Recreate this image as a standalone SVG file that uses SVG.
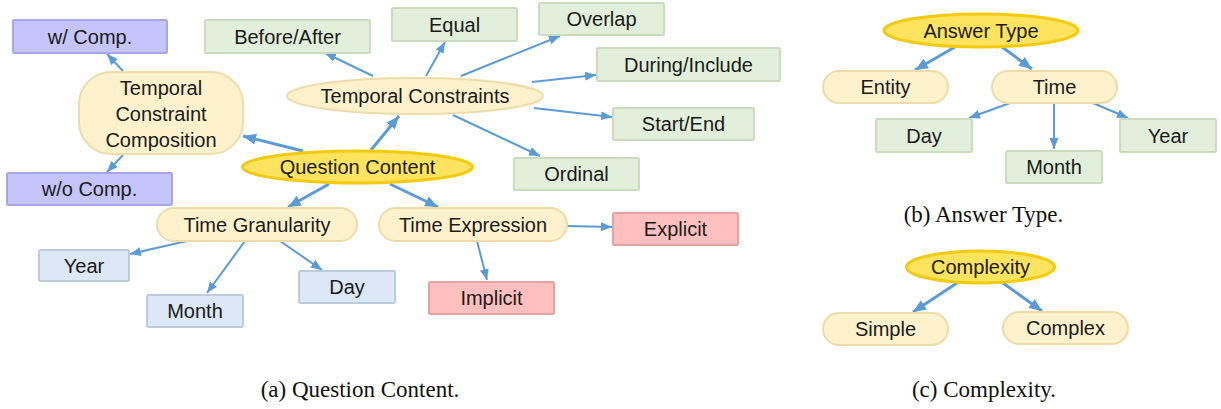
<svg xmlns="http://www.w3.org/2000/svg" width="1221" height="409" viewBox="0 0 1221 409">
<defs>
<style>
.t{font-family:"Liberation Sans",Arial,sans-serif;font-size:20px;fill:#1a1a1a;text-anchor:middle}
.cap{font-family:"Liberation Serif","Times New Roman",serif;font-size:23px;fill:#111;text-anchor:middle}
.green{fill:#e2efda;stroke:#c9dcbd;stroke-width:2}
.blue{fill:#dde8f6;stroke:#bccbdd;stroke-width:2}
.red{fill:#ffbfbf;stroke:#e2a3a3;stroke-width:2}
.lav{fill:#c5c5fc;stroke:#a6a6e4;stroke-width:2}
.cream{fill:#fdf2cc;stroke:#eddcaa;stroke-width:2}
.yel{fill:#fde35e;stroke:#f2ca10;stroke-width:3}
.thin{stroke:#5b9bd5;stroke-width:2;fill:none;marker-end:url(#ah)}
.thick{stroke:#5b9bd5;stroke-width:3;fill:none;marker-end:url(#ahb)}
</style>
<marker id="ah" markerUnits="userSpaceOnUse" markerWidth="12" markerHeight="10" refX="11" refY="4.5" orient="auto">
<path d="M0,0 L11,4.5 L0,9 z" fill="#5b9bd5"/>
</marker>
<marker id="ahb" markerUnits="userSpaceOnUse" markerWidth="14" markerHeight="12" refX="13" refY="5.5" orient="auto">
<path d="M0,0 L13,5.5 L0,11 z" fill="#5b9bd5"/>
</marker>
</defs>
<rect width="1221" height="409" fill="#fff"/>

<g id="connectors">
<line class="thick" x1="303" y1="151" x2="243" y2="136"/>
<line class="thick" x1="371" y1="150" x2="399" y2="116"/>
<line class="thick" x1="329" y1="184" x2="288" y2="207"/>
<line class="thick" x1="390" y1="184" x2="438" y2="207"/>
<line class="thin" x1="123" y1="71" x2="107" y2="54"/>
<line class="thin" x1="123" y1="155" x2="107" y2="172"/>
<line class="thin" x1="373" y1="76" x2="325" y2="53"/>
<line class="thin" x1="426" y1="76" x2="445" y2="42"/>
<line class="thin" x1="461" y1="76" x2="560" y2="36"/>
<line class="thin" x1="532" y1="82" x2="596" y2="75"/>
<line class="thin" x1="534" y1="108" x2="612" y2="117"/>
<line class="thin" x1="453" y1="115" x2="540" y2="156"/>
<line class="thin" x1="187" y1="241" x2="130" y2="254"/>
<line class="thin" x1="245" y1="241" x2="207" y2="293"/>
<line class="thin" x1="280" y1="241" x2="322" y2="270"/>
<line class="thin" x1="567" y1="226" x2="612" y2="227"/>
<line class="thin" x1="477" y1="241" x2="487" y2="280"/>
<line class="thick" x1="955" y1="47" x2="915" y2="70"/>
<line class="thick" x1="1002" y1="47" x2="1032" y2="69"/>
<line class="thin" x1="1010" y1="103" x2="969" y2="118"/>
<line class="thin" x1="1054" y1="103" x2="1054" y2="149"/>
<line class="thin" x1="1093" y1="103" x2="1128" y2="118"/>
<line class="thick" x1="957" y1="283" x2="913" y2="312"/>
<line class="thick" x1="1003" y1="283" x2="1042" y2="311"/>
</g>

<g id="wcomp"><rect class="lav" x="13" y="20" width="154" height="33" rx="1.5"/><text class="t" x="90" y="43.5">w/ Comp.</text></g>
<g id="tcc"><rect class="cream" x="79" y="72" width="164" height="82" rx="32"/><text class="t" x="161" y="95">Temporal</text><text class="t" x="161" y="121">Constraint</text><text class="t" x="161" y="146.5">Composition</text></g>
<g id="wocomp"><rect class="lav" x="7" y="173" width="165" height="32" rx="1.5"/><text class="t" x="89.5" y="196">w/o Comp.</text></g>
<g id="beforeafter"><rect class="green" x="205" y="20" width="165" height="33" rx="1.5"/><text class="t" x="287.5" y="43.5">Before/After</text></g>
<g id="equal"><rect class="green" x="392" y="8" width="125" height="33" rx="1.5"/><text class="t" x="454.5" y="31.5">Equal</text></g>
<g id="overlap"><rect class="green" x="539" y="3" width="125" height="32" rx="1.5"/><text class="t" x="601.5" y="26">Overlap</text></g>
<g id="during"><rect class="green" x="597" y="48" width="183" height="33" rx="1.5"/><text class="t" x="688.5" y="71.5">During/Include</text></g>
<g id="startend"><rect class="green" x="613" y="108" width="141" height="32" rx="1.5"/><text class="t" x="683.5" y="131">Start/End</text></g>
<g id="ordinal"><rect class="green" x="514" y="158" width="125" height="32" rx="1.5"/><text class="t" x="576.5" y="181">Ordinal</text></g>
<g id="tc"><ellipse class="cream" cx="415" cy="96" rx="128" ry="18"/><text class="t" x="415" y="103">Temporal Constraints</text></g>
<g id="qc"><ellipse class="yel" cx="357.5" cy="167" rx="115" ry="16"/><text class="t" x="357.5" y="174">Question Content</text></g>
<g id="tg"><rect class="cream" x="157" y="208" width="200" height="33" rx="16.5"/><text class="t" x="257" y="231.5">Time Granularity</text></g>
<g id="te"><rect class="cream" x="379" y="208" width="188" height="33" rx="16.5"/><text class="t" x="473" y="231.5">Time Expression</text></g>
<g id="explicit"><rect class="red" x="613" y="213" width="125" height="32" rx="1.5"/><text class="t" x="675.5" y="236">Explicit</text></g>
<g id="implicit"><rect class="red" x="429" y="282" width="125" height="32" rx="1.5"/><text class="t" x="491.5" y="305">Implicit</text></g>
<g id="tgyear"><rect class="blue" x="39" y="250" width="90" height="31" rx="1.5"/><text class="t" x="84" y="272.5">Year</text></g>
<g id="tgmonth"><rect class="blue" x="147" y="295" width="96" height="32" rx="1.5"/><text class="t" x="195" y="318">Month</text></g>
<g id="tgday"><rect class="blue" x="299" y="271" width="96" height="32" rx="1.5"/><text class="t" x="347" y="294">Day</text></g>
<text class="cap" x="360" y="397">(a) Question Content.</text>

<g id="answertype"><ellipse class="yel" cx="981" cy="30.5" rx="97" ry="16.5"/><text class="t" x="981" y="37.5">Answer Type</text></g>
<g id="entity"><rect class="cream" x="823" y="71" width="125" height="32" rx="16"/><text class="t" x="885.5" y="94">Entity</text></g>
<g id="time"><rect class="cream" x="992" y="71" width="125" height="32" rx="16"/><text class="t" x="1054.5" y="94">Time</text></g>
<g id="atday"><rect class="green" x="876" y="119" width="96" height="33" rx="1.5"/><text class="t" x="924" y="142.5">Day</text></g>
<g id="atmonth"><rect class="green" x="1006" y="151" width="96" height="32" rx="1.5"/><text class="t" x="1054" y="174">Month</text></g>
<g id="atyear"><rect class="green" x="1120" y="119" width="96" height="33" rx="1.5"/><text class="t" x="1168" y="142.5">Year</text></g>
<text class="cap" x="983.5" y="222">(b) Answer Type.</text>

<g id="complexity"><ellipse class="yel" cx="980.5" cy="267" rx="74" ry="16"/><text class="t" x="980.5" y="274">Complexity</text></g>
<g id="simple"><rect class="cream" x="823" y="313" width="125" height="32" rx="16"/><text class="t" x="885.5" y="336">Simple</text></g>
<g id="complex"><rect class="cream" x="1003" y="312" width="125" height="32" rx="16"/><text class="t" x="1065.5" y="335">Complex</text></g>
<text class="cap" x="984" y="397">(c) Complexity.</text>
</svg>
